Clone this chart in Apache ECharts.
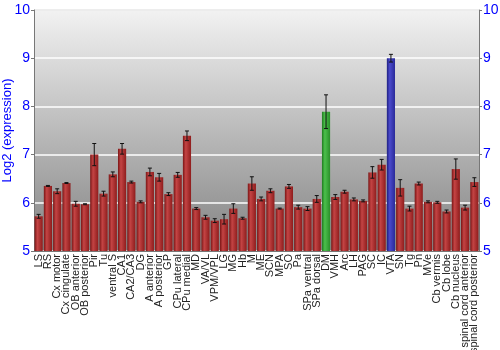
<!DOCTYPE html>
<html><head><meta charset="utf-8">
<script src="https://cdn.jsdelivr.net/npm/echarts@6/dist/echarts.min.js"></script>
<style>html,body{margin:0;padding:0;background:#fff}#c{width:500px;height:350px}</style>
</head><body><div id="c"></div>
<script>
const categories = ["LS","RS","Cx motor","Cx cingulate","OB anterior","OB posterior","Pir","Tu","ventral S","CA1","CA2/CA3","DG","A anterior","A posterior","GP","CPu lateral","CPu medial","MD","VA/VL","VPM/VPL","LG","MG","Hb","M","ME","SCN","MPA","SO","Pa","SPa ventral","SPa dorsal","DM","VMH","Arc","LH","PAG","SC","IC","VTA","SN","Tg","Pn","MVe","Cb vermis","Cb lobe","Cb nucleus","spinal cord anterior","spinal cord posterior"];
const values = [5.72,6.35,6.24,6.41,5.98,5.97,7.0,6.19,6.59,7.12,6.43,6.02,6.64,6.53,6.18,6.58,7.39,5.88,5.70,5.63,5.66,5.88,5.68,6.40,6.08,6.25,5.88,6.34,5.91,5.88,6.08,7.89,6.12,6.23,6.07,6.04,6.63,6.79,9.0,6.31,5.88,6.40,6.02,6.01,5.82,6.70,5.90,6.43];
const errors = [0.04,0.01,0.05,0.01,0.05,0.01,0.23,0.05,0.05,0.11,0.02,0.02,0.08,0.08,0.03,0.05,0.1,0.02,0.04,0.04,0.1,0.1,0.02,0.14,0.04,0.04,0.01,0.04,0.04,0.04,0.07,0.35,0.05,0.03,0.03,0.02,0.12,0.11,0.08,0.17,0.05,0.03,0.02,0.02,0.03,0.21,0.05,0.09];
const highlight = {"DM":"green","VTA":"blue"};

function grad(kind){
  const c = kind==="green" ? ["#1f7a1f","#4cc04c","#2a8f2a"] :
            kind==="blue" ? ["#1f1f80","#4a4acc","#2a2a99"] :
            ["#7a1515","#c44444","#8e1c1c"];
  return new echarts.graphic.LinearGradient(0,0,1,0,[
    {offset:0,color:c[0]},{offset:0.35,color:c[1]},{offset:1,color:c[2]}]);
}
const barData = values.map((v,i)=>({value:v,itemStyle:{color:grad(highlight[categories[i]]||"red")}}));
const errData = values.map((v,i)=>[i, v-errors[i], v+errors[i]]);

const chart = echarts.init(document.getElementById('c'));
chart.setOption({
  animation:false,
  grid:{left:34,right:21,top:10,bottom:99,show:true,borderWidth:0,containLabel:false,outerBoundsMode:'none',
    backgroundColor:new echarts.graphic.LinearGradient(0,0,0,1,[{offset:0,color:'#f2f2f2'},{offset:1,color:'#838383'}])},
  xAxis:{type:'category',data:categories,
    axisLine:{show:true,lineStyle:{color:'#777'}},axisTick:{show:false},
    axisLabel:{rotate:90,interval:0,color:'#222',fontSize:11,fontFamily:'Liberation Sans',margin:3}},
  yAxis:[{type:'value',min:5,max:10,interval:1,position:'left',
    name:'Log2 (expression)',nameLocation:'middle',nameGap:20,nameMoveOverlap:false,
    nameTextStyle:{color:'#0000ff',fontSize:13,fontFamily:'Liberation Sans'},
    axisLine:{show:true,lineStyle:{color:'#777'}},axisTick:{show:true,length:3,lineStyle:{color:'#777'}},
    axisLabel:{color:'#0000ff',fontSize:14,fontFamily:'Liberation Sans',margin:4},
    splitLine:{show:true,lineStyle:{color:'#ffffff',width:1.5}}},
   {type:'value',min:5,max:10,interval:1,position:'right',
    axisLine:{show:true,lineStyle:{color:'#777'}},axisTick:{show:true,length:3,lineStyle:{color:'#777'}},
    axisLabel:{color:'#0000ff',fontSize:14,fontFamily:'Liberation Sans',margin:4},
    splitLine:{show:false}}],
  series:[
    {type:'bar',data:barData,barCategoryGap:'12%',z:2},
    {type:'custom',z:3,data:errData,
     renderItem:function(params,api){
       const x = api.coord([api.value(0),api.value(1)])[0];
       const lo = api.coord([api.value(0),api.value(1)])[1];
       const hi = api.coord([api.value(0),api.value(2)])[1];
       const w = 2;
       const st = {stroke:'#111',lineWidth:1};
       return {type:'group',children:[
         {type:'line',shape:{x1:x,y1:lo,x2:x,y2:hi},style:st},
         {type:'line',shape:{x1:x-w,y1:lo,x2:x+w,y2:lo},style:st},
         {type:'line',shape:{x1:x-w,y1:hi,x2:x+w,y2:hi},style:st}]};
     }}
  ],
  graphic:[{type:'line',shape:{x1:34,y1:10,x2:479,y2:10},style:{stroke:'#777',lineWidth:1}}]
});
</script></body></html>
